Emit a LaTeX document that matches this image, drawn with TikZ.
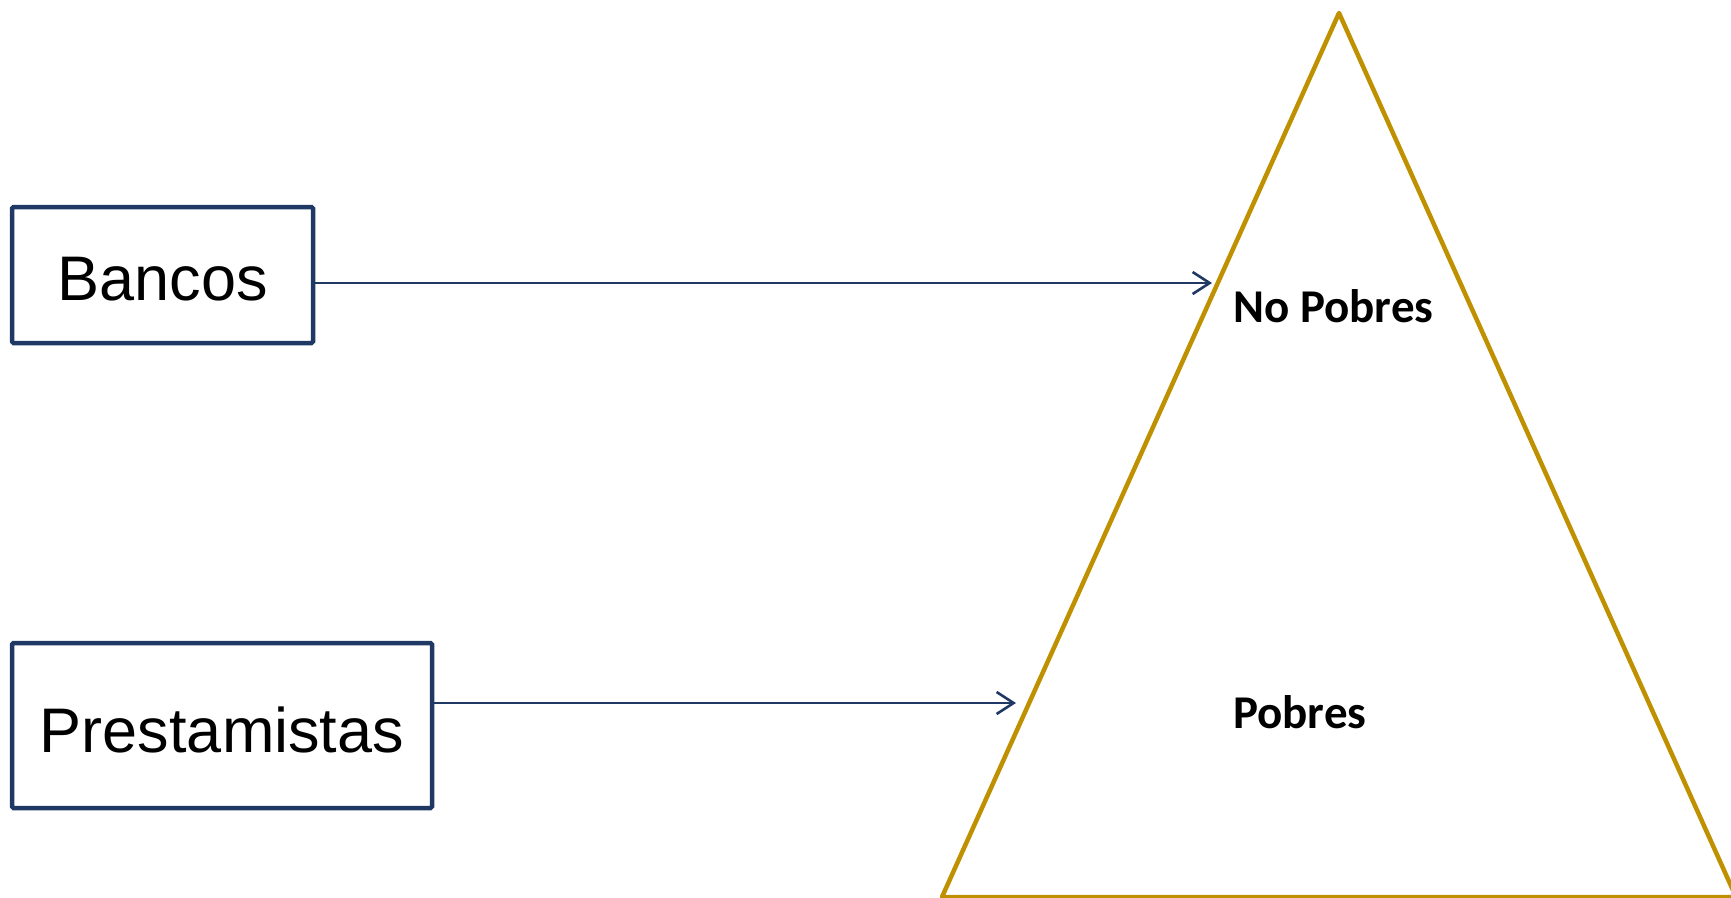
\documentclass[tikz,border=0pt]{standalone}
\usepackage{fontspec}
\setmainfont{Liberation Sans}
\newfontfamily\calibri{Carlito}
\usepackage{tikz}
\usepackage{xcolor}
\usetikzlibrary{
    arrows.meta,
    calc,
    positioning
}
\definecolor{navy}{HTML}{1F3864}
\definecolor{gold}{HTML}{BF9000}

\begin{document}
\begin{tikzpicture}[x=1pt, y=-1pt,
        source/.style={draw=navy, line width=4.5pt, rounded corners=1.5pt, inner sep=0pt, anchor=base,
            font=\fontsize{63}{70}\selectfont},
        level/.style={anchor=base west, inner sep=0pt, font=\calibri\bfseries\fontsize{47}{52}\selectfont},
        link/.style={draw=navy, line width=2.2pt, -{Straight Barb[length=17pt, width=22pt, line width=2.6pt]}}]
        \useasboundingbox (0, 0) rectangle (1731, 897);
        % lenders
        \node[source, minimum width=301, text height=93, text depth=43] (bancos) at (162.5, 300) {Bancos};
        \node[source, minimum width=420, text height=109, text depth=56] (prest) at (222, 752) {Prestamistas};
        % pyramid
        \draw[gold, line width=4.5pt, line join=round]
            (1339, 13) -- (942, 897) -- (1736, 897) -- cycle;
        \node[level] (nopobres) at (1233, 322) {No Pobres};
        \node[level] (pobres) at (1233, 728) {Pobres};
        \coordinate (tipA) at (1212, 283);
        \coordinate (tipB) at (1016, 703);
        \draw[link] (bancos.east |- tipA) -- (tipA);
        \draw[link] (prest.east |- tipB) -- (tipB);
    \end{tikzpicture}
\end{document}
